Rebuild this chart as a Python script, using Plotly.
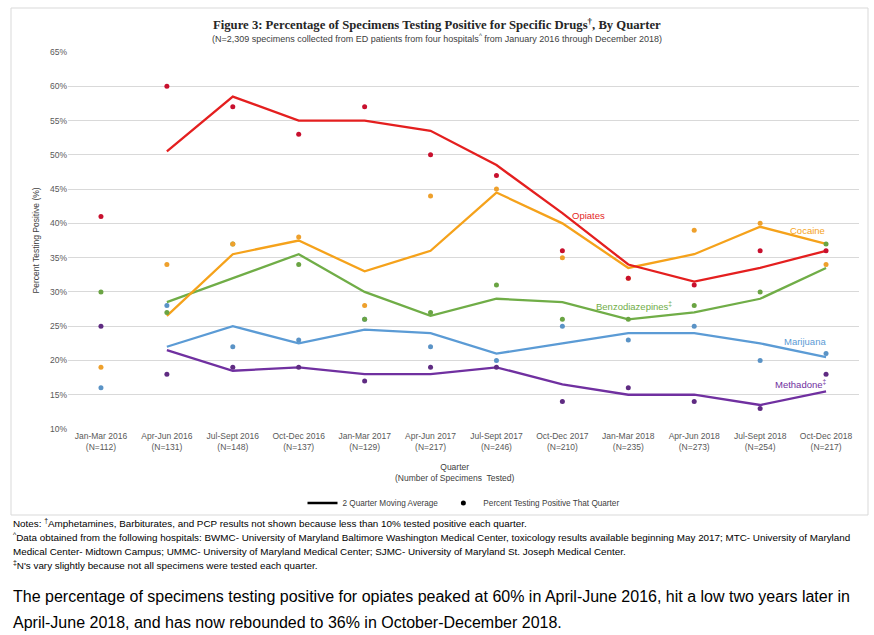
import plotly.graph_objects as go

quarters = ["Jan-Mar 2016", "Apr-Jun 2016", "Jul-Sept 2016", "Oct-Dec 2016",
            "Jan-Mar 2017", "Apr-Jun 2017", "Jul-Sept 2017", "Oct-Dec 2017",
            "Jan-Mar 2018", "Apr-Jun 2018", "Jul-Sept 2018", "Oct-Dec 2018"]
n_tested = [112, 131, 148, 137, 129, 217, 246, 210, 235, 273, 254, 217]

opiates = [41, 60, 57, 53, 57, 50, 47, 36, 32, 31, 36, 36]
cocaine = [19, 34, 37, 38, 28, 44, 45, 35, 32, 39, 40, 34]
benzo = [30, 27, 37, 34, 26, 27, 31, 26, 26, 28, 30, 37]
marijuana = [16, 28, 22, 23, 26, 22, 20, 25, 23, 25, 20, 21]
methadone = [25, 18, 19, 19, 17, 19, 19, 14, 16, 14, 13, 18]

opiates_ma = [None, 50.5, 58.5, 55, 55, 53.5, 48.5, 41.5, 34, 31.5, 33.5, 36]
cocaine_ma = [None, 26.5, 35.5, 37.5, 33, 36, 44.5, 40, 33.5, 35.5, 39.5, 37]
benzo_ma = [None, 28.5, 32, 35.5, 30, 26.5, 29, 28.5, 26, 27, 29, 33.5]
marijuana_ma = [None, 22, 25, 22.5, 24.5, 24, 21, 22.5, 24, 24, 22.5, 20.5]
methadone_ma = [None, 21.5, 18.5, 19, 18, 18, 19, 16.5, 15, 15, 13.5, 15.5]

y_ticks = [10, 15, 20, 25, 30, 35, 40, 45, 50, 55, 60, 65]

NARROW = "Liberation Sans Narrow, Arial Narrow, Liberation Sans, Arial, sans-serif"
SANS = "Liberation Sans, Arial, sans-serif"

x = list(range(len(quarters)))
ticktext = [f"{q}<br>(N={n})" for q, n in zip(quarters, n_tested)]

series = [
    ("Methadone", methadone, methadone_ma, "#7030A0", "#5F2B82"),
    ("Marijuana", marijuana, marijuana_ma, "#5B9BD5", "#5A93C6"),
    ("Benzodiazepines", benzo, benzo_ma, "#70AD47", "#6AA443"),
    ("Cocaine", cocaine, cocaine_ma, "#F5A21B", "#EEA02C"),
    ("Opiates", opiates, opiates_ma, "#E41F1F", "#C8102E"),
]

fig = go.Figure()
for name, pts, ma, lc, dc in series:
    fig.add_trace(go.Scatter(x=x, y=ma, mode="lines", line=dict(color=lc, width=2.3),
                             showlegend=False, name=name + " MA"))
for name, pts, ma, lc, dc in series:
    fig.add_trace(go.Scatter(x=x, y=pts, mode="markers", marker=dict(color=dc, size=5),
                             showlegend=False, name=name))

fig.add_trace(go.Scatter(x=[None], y=[None], mode="lines", line=dict(color="black", width=2.5),
                         name="2 Quarter Moving Average"))
fig.add_trace(go.Scatter(x=[None], y=[None], mode="markers", marker=dict(color="black", size=5),
                         name="Percent Testing Positive That Quarter"))

fig.update_layout(
    width=874, height=635,
    margin=dict(l=68, r=15, t=52, b=206),
    paper_bgcolor="white", plot_bgcolor="white",
    font=dict(family=NARROW, size=8.5, color="#595959"),
    legend=dict(orientation="h", x=0.5, xanchor="center", y=-0.196, yanchor="middle",
                font=dict(family=NARROW, size=8.2, color="#404040"), itemwidth=30,
                bgcolor="rgba(0,0,0,0)"),
    xaxis=dict(range=[-0.5, 11.5], tickvals=x, ticktext=ticktext, showgrid=False,
               zeroline=False, showline=False, ticks="",
               tickfont=dict(family=NARROW, size=8.5, color="#595959")),
    yaxis=dict(range=[10, 65], tickvals=y_ticks, ticktext=[f"{v}%" for v in y_ticks],
               showgrid=True, gridcolor="#D9D9D9", gridwidth=1, zeroline=False,
               showline=False, ticks="",
               tickfont=dict(family=NARROW, size=8.5, color="#595959")),
    showlegend=True,
)

ann = []
ann.append(dict(text="<b>Figure 3: Percentage of Specimens Testing Positive for Specific Drugs<sup>†</sup>, By Quarter</b>",
                x=0.4665, y=(429 - 24) / 377, xref="paper", yref="paper", showarrow=False,
                xanchor="center", yanchor="middle",
                font=dict(family="Liberation Serif, Times New Roman, serif", size=12.7, color="#262626")))
ann.append(dict(text="(N=2,309 specimens collected from ED patients from four hospitals<sup>^</sup> from January 2016 through December 2018)",
                x=0.4665, y=(429 - 38) / 377, xref="paper", yref="paper", showarrow=False,
                xanchor="center", yanchor="middle",
                font=dict(family=NARROW, size=9, color="#404040")))
ann.append(dict(text="Percent Testing Positive (%)", x=(35 - 68) / 791, y=0.5, xref="paper", yref="paper",
                textangle=-90, showarrow=False, xanchor="center", yanchor="middle",
                font=dict(family=NARROW, size=8.5, color="#404040")))
ann.append(dict(text="Quarter<br>(Number of Specimens  Tested)", x=0.4895, y=(429 - 472) / 377,
                xref="paper", yref="paper", showarrow=False, xanchor="center", yanchor="middle",
                font=dict(family=NARROW, size=8.5, color="#404040")))

labels = [("Opiates", 7.4, 41.2, "#E41F1F"), ("Cocaine", 10.72, 38.9, "#F5A21B"),
          ("Benzodiazepines<sup>‡</sup>", 8.09, 27.9, "#70AD47"),
          ("Marijuana", 10.68, 22.7, "#5B9BD5"), ("Methadone<sup>‡</sup>", 10.62, 16.6, "#7030A0")]
for t, lx, ly, c in labels:
    ann.append(dict(text=t, x=lx, y=ly, xref="x", yref="y", showarrow=False,
                    xanchor="center", yanchor="middle",
                    font=dict(family=SANS, size=9.5, color=c)))

notes = [
    ("Notes: <sup>†</sup>Amphetamines, Barbiturates, and PCP results not shown because less than 10% tested positive each quarter.", 523),
    ("<sup>^</sup>Data obtained from the following hospitals: BWMC- University of Maryland Baltimore Washington Medical Center, toxicology results available beginning May 2017; MTC- University of Maryland", 537),
    ("Medical Center- Midtown Campus; UMMC- University of Maryland Medical Center; SJMC- University of Maryland St. Joseph Medical Center.", 551),
    ("<sup>‡</sup>N's vary slightly because not all specimens were tested each quarter.", 565),
]
for t, py in notes:
    ann.append(dict(text=t, x=(11 - 68) / 791, y=(429 - py) / 377, xref="paper", yref="paper",
                    xanchor="left", yanchor="middle", showarrow=False,
                    font=dict(family=NARROW, size=9.85, color="black")))

para = [
    ("The percentage of specimens testing positive for opiates peaked at 60% in April-June 2016, hit a low two years later in", 596),
    ("April-June 2018, and has now rebounded to 36% in October-December 2018.", 622),
]
for t, py in para:
    ann.append(dict(text=t, x=(11 - 68) / 791, y=(429 - py) / 377, xref="paper", yref="paper",
                    xanchor="left", yanchor="middle", showarrow=False,
                    font=dict(family=SANS, size=16, color="black")))

fig.update_layout(annotations=ann)
fig.add_shape(type="rect", xref="paper", yref="paper",
              x0=(11 - 68) / 791, x1=(868 - 68) / 791, y0=(429 - 515) / 377, y1=(429 - 8) / 377,
              line=dict(color="#D9D9D9", width=1), fillcolor="rgba(0,0,0,0)", layer="below")

fig.write_html("out.html", config={"displayModeBar": False},
               post_script="document.body.style.margin='0';document.body.style.overflow='hidden';")
